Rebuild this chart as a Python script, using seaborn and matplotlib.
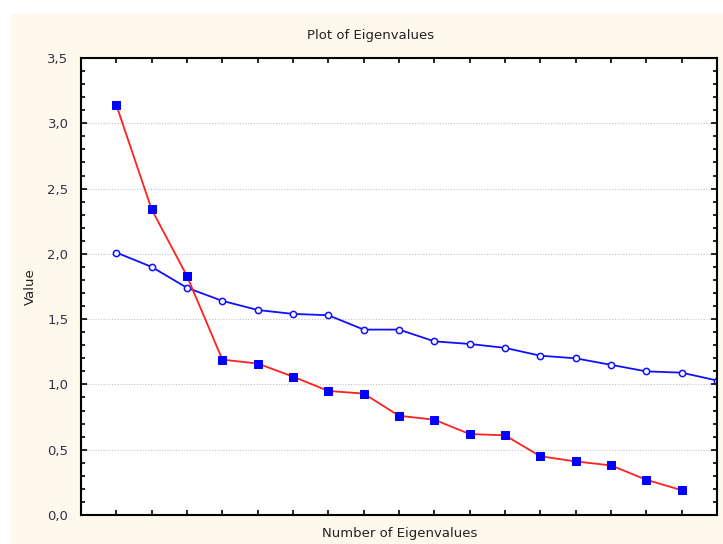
import seaborn as sns
import matplotlib.pyplot as plt
import matplotlib.ticker as mticker
from matplotlib.patches import Rectangle
import pandas as pd

sns.set_style("ticks")
plt.rcParams['font.family'] = ['DejaVu Sans']

# values
n_obs = list(range(1, 18))
eigenvalues = [3.14, 2.34, 1.83, 1.19, 1.16, 1.06, 0.95, 0.93, 0.76, 0.73,
               0.62, 0.61, 0.45, 0.41, 0.38, 0.27, 0.19]
n_ref = list(range(1, 19))
reference = [2.01, 1.90, 1.74, 1.64, 1.57, 1.54, 1.53, 1.42, 1.42, 1.33,
             1.31, 1.28, 1.22, 1.20, 1.15, 1.10, 1.09, 1.03]

obs = pd.DataFrame({"n": n_obs, "value": eigenvalues})
ref = pd.DataFrame({"n": n_ref, "value": reference})

fig = plt.figure(figsize=(7.23, 5.44), dpi=100, facecolor="white")
# cream panel behind the plot
fig.patches.append(Rectangle((11 / 723, 0), 1 - 11 / 723, 1 - 14 / 544,
                             transform=fig.transFigure, facecolor="#fff9ed",
                             edgecolor="none", zorder=-10))
ax = fig.add_axes([81 / 723, 29 / 544, 636 / 723, 457 / 544])
ax.set_zorder(5)
ax.set_facecolor("white")

sns.lineplot(data=ref, x="n", y="value", ax=ax, color="#1010ff", lw=1.3,
             marker="o", markersize=4.5, markerfacecolor="white",
             markeredgecolor="#1010ff", markeredgewidth=1.1)
sns.lineplot(data=obs, x="n", y="value", ax=ax, color="#ff2020", lw=1.3,
             marker="s", markersize=5.5, markerfacecolor="#0000ff",
             markeredgecolor="#0000ff")

ax.set_xlim(0, 18)
ax.set_ylim(0, 3.5)
ax.xaxis.set_major_locator(mticker.FixedLocator(n_obs))
ax.xaxis.set_major_formatter(mticker.NullFormatter())
ax.yaxis.set_major_locator(mticker.MultipleLocator(0.5))
ax.yaxis.set_minor_locator(mticker.MultipleLocator(0.1))
ax.yaxis.set_major_formatter(mticker.FuncFormatter(lambda v, p: f"{v:.1f}".replace(".", ",")))
ax.tick_params(axis="both", which="both", direction="in", top=True, right=True,
               width=1.2, color="black")
ax.tick_params(axis="y", which="major", length=4, labelsize=9.5, pad=9,
               labelcolor="#333344")
ax.tick_params(axis="y", which="minor", length=3)
ax.tick_params(axis="x", which="major", length=3.5)
for s in ax.spines.values():
    s.set_linewidth(1.5)
    s.set_color("black")
ax.grid(axis="y", which="major", linestyle=(0, (1, 1.5)), color="#c4c4c4", lw=0.8)

ax.set_xlabel("")
ax.set_ylabel("")
fig.text(371 / 723, 1 - 36 / 544, "Plot of Eigenvalues", ha="center", va="center",
         fontsize=9.5, color="#222222")
fig.text(400 / 723, 1 - 534 / 544, "Number of Eigenvalues", ha="center", va="center",
         fontsize=9.5, color="#222222")
fig.text(30 / 723, 1 - 287 / 544, "Value", ha="center", va="center", rotation=90,
         fontsize=9.5, color="#222222")

plt.savefig("out.png", dpi=100, facecolor=fig.get_facecolor())
plt.close()
